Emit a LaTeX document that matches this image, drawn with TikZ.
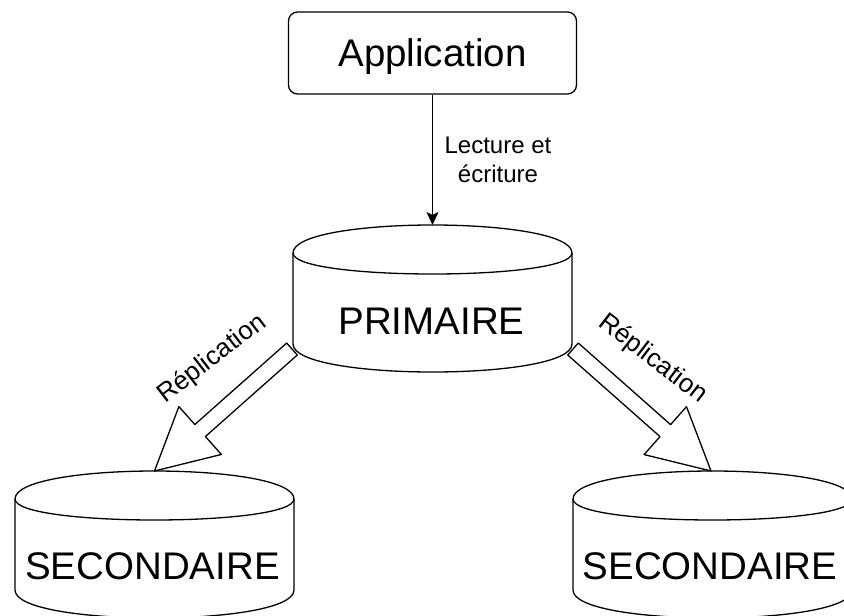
\documentclass[tikz,border=0pt]{standalone}
\usepackage{fontspec}
\setmainfont{Liberation Sans}
\usetikzlibrary{arrows.meta,calc}

\tikzset{
  line/.style={line width=1.3pt, line join=round},
  bigtext/.style={font=\fontsize{38.5pt}{46pt}\selectfont, text height=27.6pt, text depth=0pt, inner sep=0pt},
  smalltext/.style={font=\fontsize{24pt}{29pt}\selectfont, inner sep=0pt},
  repltext/.style={font=\fontsize{26pt}{31pt}\selectfont, inner sep=0pt, anchor=base},
  % database drum, top-left corner at the pic origin (y grows downwards)
  dbdrum/.pic={
    \draw[line] (0,28) .. controls (0,-9.33) and (279,-9.33) .. (279,28)
      -- (279,119) .. controls (279,156.33) and (0,156.33) .. (0,119) -- cycle;
    \draw[line] (0,28) .. controls (0,56) and (279,56) .. (279,28);
  },
}

% hollow block arrow from #1 to #2, named after #1
\newcommand\blockarrow[2]{%
  \path coordinate (#1h) at ($(#2)!61pt!(#1)$);
  \draw[line] ($(#1)!8pt!90:(#2)$) -- ($(#1h)!8pt!90:(#2)$) -- ($(#1h)!32pt!90:(#2)$)
    -- (#2) -- ($(#1h)!32pt!-90:(#2)$) -- ($(#1h)!8pt!-90:(#2)$)
    -- ($(#1)!8pt!-90:(#2)$) -- cycle;
}

\begin{document}
\begin{tikzpicture}[x=1pt,y=-1pt]
\useasboundingbox (0,0) rectangle (844,616);
\clip (0,0) rectangle (844,616);
\fill[white] (0,0) rectangle (844,616);

% application box
\node[draw, line, rounded corners=9pt, minimum width=288pt, minimum height=82pt, bigtext] (app) at (432.5,53) {Application};

% databases
\pic at (293,225) {dbdrum};
\pic at (15,471) {dbdrum};
\pic at (573,471) {dbdrum};
\node[bigtext] (prim) at (431.5,320.5) {PRIMAIRE};
\node[bigtext] (secL) at (152.5,566) {SECONDAIRE};
\node[bigtext] (secR) at (710,566) {SECONDAIRE};

% connection points on the drums
\coordinate (primtop) at (432.5,225);
\coordinate (sL) at (292,349);
\coordinate (tL) at (154.5,471);
\coordinate (sR) at (573,349);
\coordinate (tR) at (711,471);

% read / write access
\draw[line, -{Stealth[length=13pt,width=12pt,inset=3pt]}] (app.south) -- (primtop);
\node[smalltext, align=center] (rw) at (498,160) {Lecture et\\écriture};

% replication arrows
\blockarrow{sL}{tL}
\blockarrow{sR}{tR}
\node[repltext, rotate=37.5] (repL) at (216.5,364.5) {Réplication};
\node[repltext, rotate=-37.5] (repR) at (648.5,364.5) {Réplication};
\end{tikzpicture}
\end{document}
